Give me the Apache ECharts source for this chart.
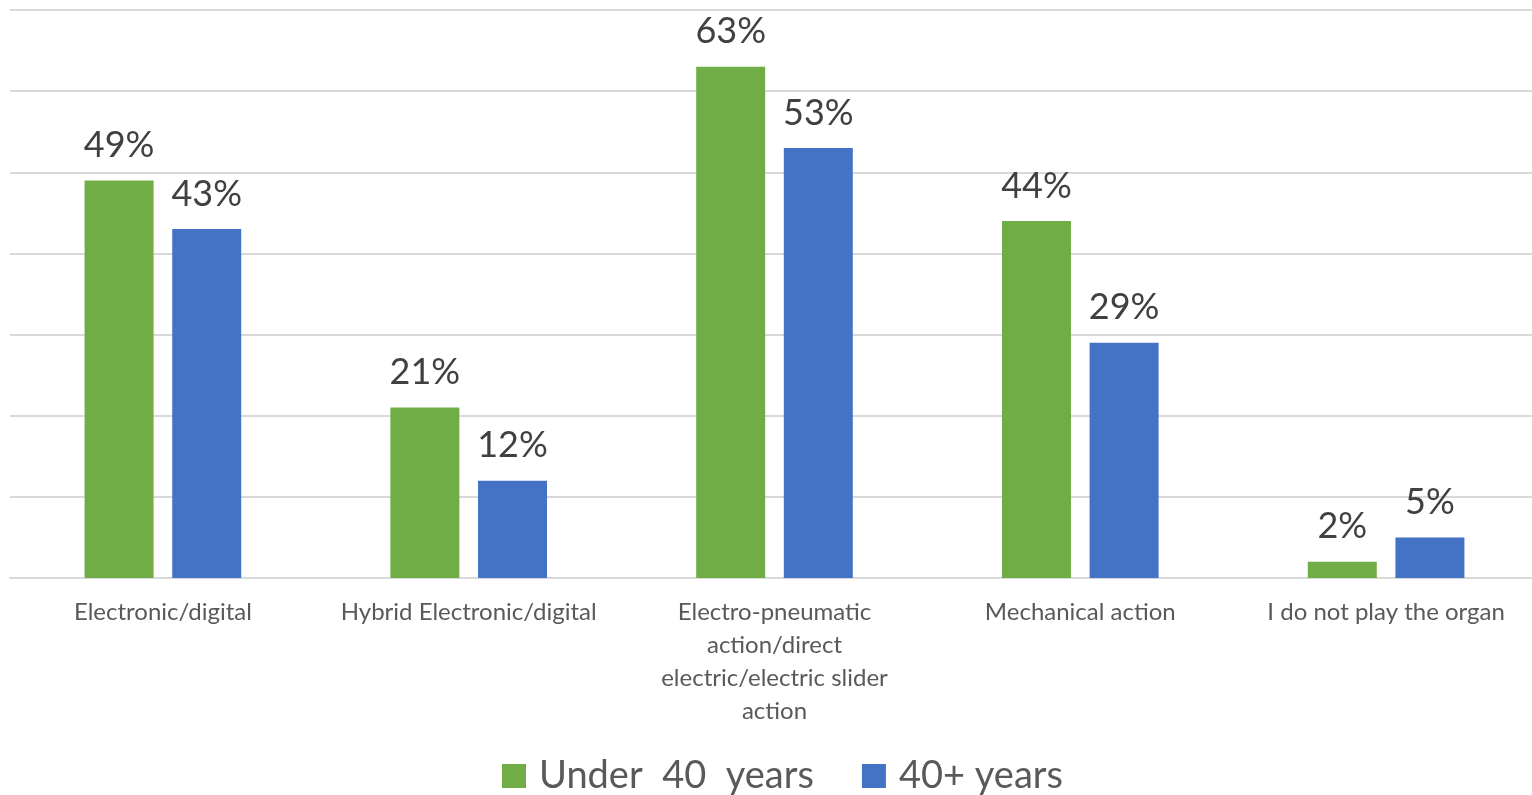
<!DOCTYPE html>
<html>
<head>
<meta charset="utf-8">
<script src="https://cdn.jsdelivr.net/npm/echarts@6/dist/echarts.min.js"></script>
<style>
  html, body { margin: 0; padding: 0; background: #ffffff; }
  #chart { width: 1532px; height: 795px; }
</style>
</head>
<body>
<div id="chart"></div>
<script>
// Organ action types played, by age group (percent of respondents)
const categories = [
  'Electronic/digital',
  'Hybrid Electronic/digital',
  'Electro-pneumatic\naction/direct\nelectric/electric slider\naction',
  'Mechanical action',
  'I do not play the organ'
];
const under40 = [49, 21, 63, 44, 2];
const over40 = [43, 12, 53, 29, 5];
const seriesNames = ['Under  40  years', '40+ years'];

const FONT = 'Lato, "Open Sans", sans-serif';

const chart = echarts.init(document.getElementById('chart'), null, { renderer: 'canvas' });

const labelStyle = {
  show: true,
  position: 'top',
  distance: 17,
  formatter: '{c}%',
  fontFamily: FONT,
  fontSize: 36,
  color: '#404040'
};

chart.setOption({
  animation: false,
  backgroundColor: '#ffffff',
  grid: {
    left: 10, width: 1529, top: 10, bottom: 217,
    containLabel: false, outerBoundsMode: 'none'
  },
  legend: {
    bottom: -5,
    left: 497,
    itemWidth: 24,
    itemHeight: 24,
    itemGap: 48,
    icon: 'rect',
    textStyle: { fontFamily: FONT, fontSize: 38, color: '#595959', padding: [0, 0, 0, 8] },
    data: seriesNames
  },
  xAxis: {
    type: 'category',
    data: categories,
    axisLine: { show: true, lineStyle: { color: '#d9d9d9', width: 2 } },
    axisTick: { show: false },
    axisLabel: {
      interval: 0,
      margin: 18,
      fontFamily: FONT,
      fontSize: 24,
      lineHeight: 33,
      color: '#595959'
    }
  },
  yAxis: {
    type: 'value',
    min: 0,
    max: 70,
    interval: 10,
    axisLabel: { show: false },
    axisLine: { show: false },
    axisTick: { show: false },
    splitLine: { lineStyle: { color: '#d9d9d9', width: 2 } }
  },
  series: [
    {
      name: seriesNames[0],
      type: 'bar',
      data: under40,
      barWidth: 69,
      barGap: '27%',
      itemStyle: { color: '#70ad47' },
      label: labelStyle
    },
    {
      name: seriesNames[1],
      type: 'bar',
      data: over40,
      barWidth: 69,
      itemStyle: { color: '#4472c4' },
      label: labelStyle
    }
  ]
});
</script>
</body>
</html>
